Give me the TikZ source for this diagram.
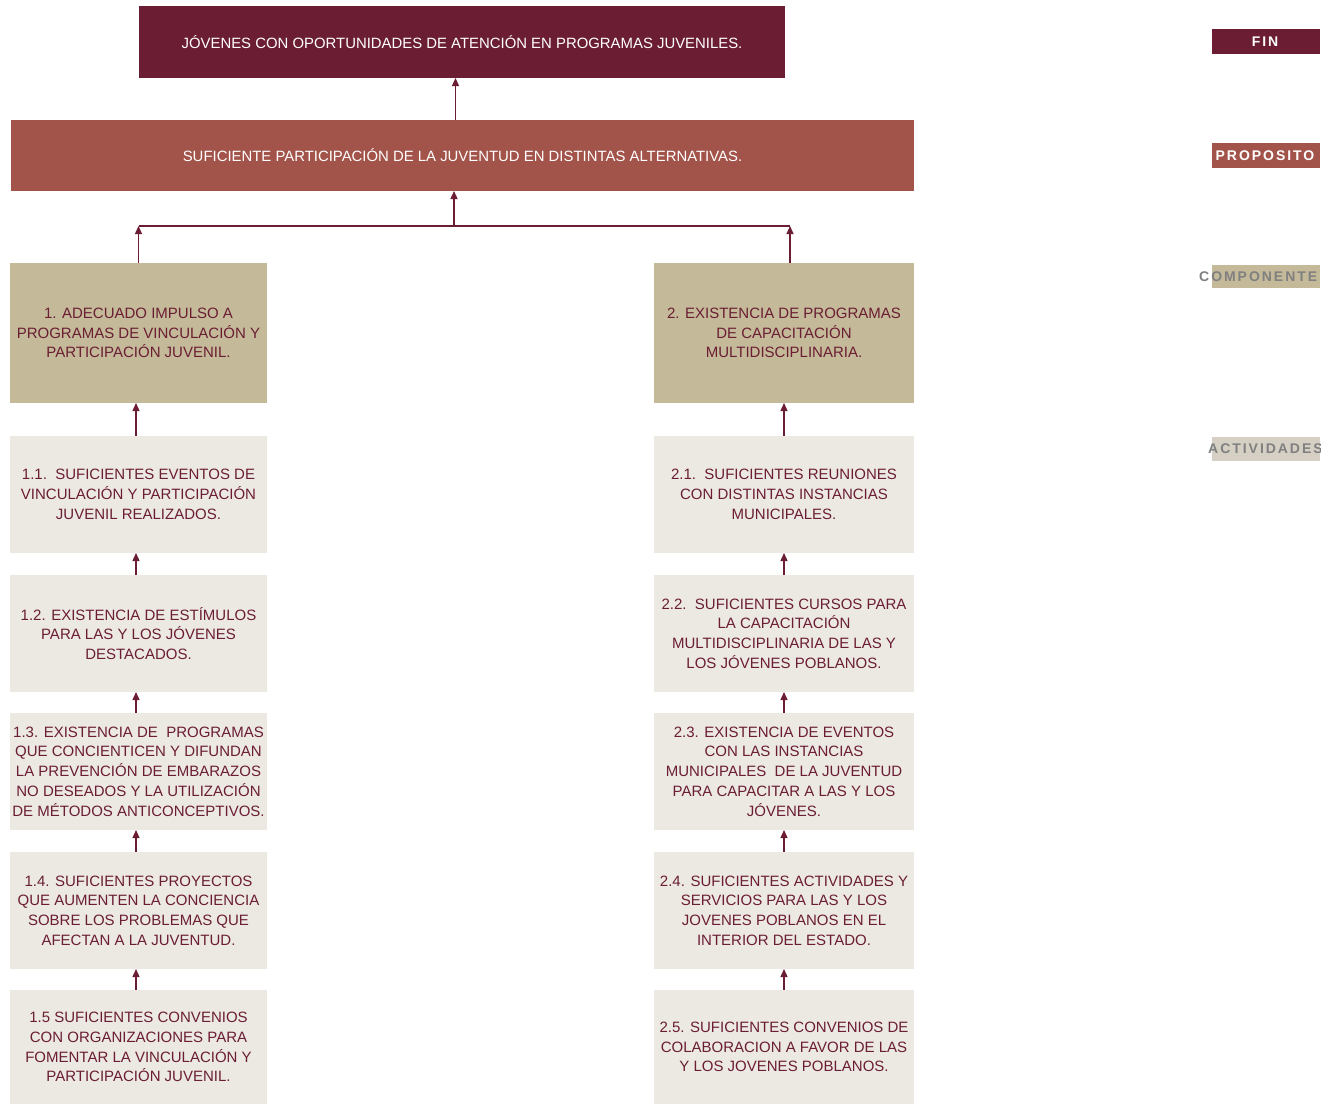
\documentclass[tikz,border=0pt]{standalone}
\usepackage{fontspec}
\setmainfont{Liberation Sans}
\newfontfamily\lblfont[LetterSpace=14]{Liberation Sans}
\usetikzlibrary{arrows.meta}
\definecolor{vino}{RGB}{107,29,51}
\definecolor{teja}{RGB}{162,84,74}
\definecolor{arena}{RGB}{196,186,153}
\definecolor{hueso}{RGB}{236,233,227}
\definecolor{hueso2}{RGB}{214,208,196}
\definecolor{gristxt}{RGB}{128,128,128}
\begin{document}
\begin{tikzpicture}[x=1pt,y=-1pt,
  basebox/.style={inner sep=0pt, outer sep=0pt, anchor=north west, align=center,
    font=\fontsize{15}{19.7}\selectfont},
  finbox/.style={basebox, fill=vino, text=white, minimum width=646, minimum height=72,
    font=\fontsize{14.9}{19.7}\selectfont},
  propbox/.style={basebox, fill=teja, text=white, minimum width=903, minimum height=71,
    font=\fontsize{14.9}{19.7}\selectfont},
  compbox/.style={basebox, fill=arena, text=vino, minimum height=140},
  actbox/.style={basebox, fill=hueso, text=vino},
  lbl/.style={inner sep=0pt, outer sep=0pt, anchor=north west, minimum width=108},
  lbltxt/.style={inner sep=0pt, font=\fontsize{14}{15}\selectfont\lblfont\bfseries},
  arr/.style={draw=vino, line width=1.3pt, -{Triangle[length=8pt,width=7pt]}},
  ln/.style={draw=vino, line width=1.3pt}
]
\useasboundingbox[fill=white] (0,0) rectangle (1337,1104);

\node[finbox] (fin) at (139,6) {JÓVENES CON OPORTUNIDADES DE ATENCIÓN EN PROGRAMAS JUVENILES.};
\node[propbox] (prop) at (11,120) {SUFICIENTE PARTICIPACIÓN DE LA JUVENTUD EN DISTINTAS ALTERNATIVAS.};

\node[compbox, minimum width=257] (c1) at (10,263) {1. ADECUADO IMPULSO A\\PROGRAMAS DE VINCULACIÓN Y\\PARTICIPACIÓN JUVENIL.};
\node[compbox, minimum width=260] (c2) at (654,263) {2. EXISTENCIA DE PROGRAMAS\\DE CAPACITACIÓN\\MULTIDISCIPLINARIA.};

% left activities
\node[actbox, minimum width=257, minimum height=117] (a11) at (10,436) {1.1.\ \ SUFICIENTES EVENTOS DE\\VINCULACIÓN Y PARTICIPACIÓN\\JUVENIL REALIZADOS.};
\node[actbox, minimum width=257, minimum height=117] (a12) at (10,575) {1.2. EXISTENCIA DE ESTÍMULOS\\PARA LAS Y LOS JÓVENES\\DESTACADOS.};
\node[actbox, minimum width=257, minimum height=117] (a13) at (10,713) {1.3. EXISTENCIA DE\ \ PROGRAMAS\\QUE CONCIENTICEN Y DIFUNDAN\\LA PREVENCIÓN DE EMBARAZOS\\NO DESEADOS Y LA UTILIZACIÓN\\DE MÉTODOS ANTICONCEPTIVOS.};
\node[actbox, minimum width=257, minimum height=117] (a14) at (10,852) {1.4. SUFICIENTES PROYECTOS\\QUE AUMENTEN LA CONCIENCIA\\SOBRE LOS PROBLEMAS QUE\\AFECTAN A LA JUVENTUD.};
\node[actbox, minimum width=257, minimum height=114] (a15) at (10,990) {1.5 SUFICIENTES CONVENIOS\\CON ORGANIZACIONES PARA\\FOMENTAR LA VINCULACIÓN Y\\PARTICIPACIÓN JUVENIL.};

% right activities
\node[actbox, minimum width=260, minimum height=117] (a21) at (654,436) {2.1.\ \ SUFICIENTES REUNIONES\\CON DISTINTAS INSTANCIAS\\MUNICIPALES.};
\node[actbox, minimum width=260, minimum height=117] (a22) at (654,575) {2.2.\ \ SUFICIENTES CURSOS PARA\\LA CAPACITACIÓN\\MULTIDISCIPLINARIA DE LAS Y\\LOS JÓVENES POBLANOS.};
\node[actbox, minimum width=260, minimum height=117] (a23) at (654,713) {2.3. EXISTENCIA DE EVENTOS\\CON LAS INSTANCIAS\\MUNICIPALES\ \ DE LA JUVENTUD\\PARA CAPACITAR A LAS Y LOS\\JÓVENES.};
\node[actbox, minimum width=260, minimum height=117] (a24) at (654,852) {2.4. SUFICIENTES ACTIVIDADES Y\\SERVICIOS PARA LAS Y LOS\\JOVENES POBLANOS EN EL\\INTERIOR DEL ESTADO.};
\node[actbox, minimum width=260, minimum height=114] (a25) at (654,990) {2.5. SUFICIENTES CONVENIOS DE\\COLABORACION A FAVOR DE LAS\\Y LOS JOVENES POBLANOS.};

% connectors
\draw[arr] ([xshift=-7]prop.north) -- ([xshift=-7]prop.north |- fin.south);
\coordinate (br) at (454,226);
\draw[ln] (c1.north |- br) -- ([xshift=6]c2.north |- br);
\draw[arr] (br) -- (br |- prop.south);
\draw[arr] (c1.north) -- (c1.north |- br);
\draw[arr] ([xshift=6]c2.north) -- ([xshift=6]c2.north |- br);

\foreach \lo/\hi in {a11/c1,a12/a11,a13/a12,a14/a13,a15/a14}{
  \draw[arr] ([xshift=-2.5]\lo.north) -- ([xshift=-2.5]\hi.south);
}
\foreach \lo/\hi in {a21/c2,a22/a21,a23/a22,a24/a23,a25/a24}{
  \draw[arr] (\lo.north) -- (\hi.south);
}

% legend labels
\begin{scope}
\clip (0,0) rectangle (1320,1104);
\node[lbl, fill=vino, minimum height=25] (lfin) at (1212,29) {};
\node[lbltxt, text=white] (tfin) at ([xshift=-1]lfin.center) {FIN};
\node[lbl, fill=teja, minimum height=25] (lprop) at (1212,143) {};
\node[lbltxt, text=white] (tprop) at ([xshift=-1]lprop.center) {PROPOSITO};
\node[lbl, fill=arena, minimum height=23] (lcomp) at (1212,265) {};
\node[lbltxt, text=gristxt, anchor=west] (tcomp) at ([xshift=-13]lcomp.west) {COMPONENTE};
\node[lbl, fill=hueso2, minimum height=24] (lact) at (1212,437) {};
\node[lbltxt, text=gristxt, anchor=west] (tact) at ([xshift=-4]lact.west) {ACTIVIDADES};
\end{scope}
\end{tikzpicture}
\end{document}
